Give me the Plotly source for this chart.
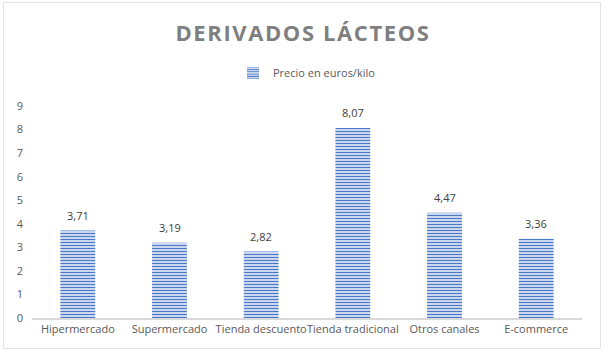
import plotly.graph_objects as go

categories = ["Hipermercado", "Supermercado", "Tienda descuento", "Tienda tradicional", "Otros canales", "E-commerce"]
values = [3.71, 3.19, 2.82, 8.07, 4.47, 3.36]
series_name = "Precio en euros/kilo"
title_text = "DERIVADOS LÁCTEOS"
y_ticks = [0, 1, 2, 3, 4, 5, 6, 7, 8, 9]

FONT = "Open Sans"

fig = go.Figure()
fig.add_trace(go.Bar(
    x=categories,
    y=values,
    name=series_name,
    marker=dict(
        color="#ffffff",
        line=dict(width=0),
        pattern=dict(shape="-", fgcolor="#4a78c8", bgcolor="#f4f7fc", size=3, solidity=0.5, fillmode="replace"),
    ),
    showlegend=True,
))

for c, v in zip(categories, values):
    fig.add_annotation(
        x=c, y=v, xref="x", yref="y",
        text=f"{v:.2f}".replace(".", ","),
        showarrow=False, yanchor="bottom", yshift=6,
        font=dict(family=FONT, size=11, color="#404040"),
    )

fig.update_layout(
    width=606, height=355,
    margin=dict(l=32, r=24, t=106, b=37, autoexpand=False),
    paper_bgcolor="#ffffff",
    plot_bgcolor="#ffffff",
    separators=",.",
    bargap=0.62,
    title=dict(
        text="<b>" + title_text + "</b>",
        x=0.5, xanchor="center", xref="container",
        y=1 - 33 / 355, yanchor="middle", yref="container",
        font=dict(family=FONT, size=22, color="#7f7f7f"),
    ),
    showlegend=True,
    legend=dict(
        orientation="h", x=0.5, xanchor="center", y=1.156, yanchor="middle",
        font=dict(family=FONT, size=11, color="#595959"),
        bgcolor="rgba(0,0,0,0)", itemwidth=30,
    ),
    xaxis=dict(
        showgrid=False, zeroline=False, showline=True, linecolor="#d9d9d9", linewidth=1.5,
        ticks="", tickangle=0, automargin=False,
        tickfont=dict(family=FONT, size=11, color="#595959"),
    ),
    yaxis=dict(
        range=[0, 9], tickvals=y_ticks, showgrid=False, zeroline=False, showline=False,
        ticks="", automargin=False, tickfont=dict(family=FONT, size=11, color="#595959"),
        ticklabelstandoff=8,
    ),
    shapes=[dict(
        type="rect", xref="paper", yref="paper",
        x0=(3.5 - 32) / 550, x1=(600.5 - 32) / 550,
        y0=(318 - 348.5) / 212, y1=(318 - 2.5) / 212,
        line=dict(color="#e3e3e3", width=1), fillcolor="rgba(0,0,0,0)", layer="below",
    )],
)

post = """
document.body.style.margin = '0';
document.body.style.padding = '0';
function spaceTitle(){
  var t = document.querySelectorAll('.gtitle');
  t.forEach(function(el){ el.style.letterSpacing = '1.6px'; });
}
spaceTitle();
var gd = document.getElementById('{plot_id}');
if (gd && gd.on) { gd.on('plotly_afterplot', spaceTitle); }
"""

fig.write_html("out.html", post_script=post, config={"displayModeBar": False})
